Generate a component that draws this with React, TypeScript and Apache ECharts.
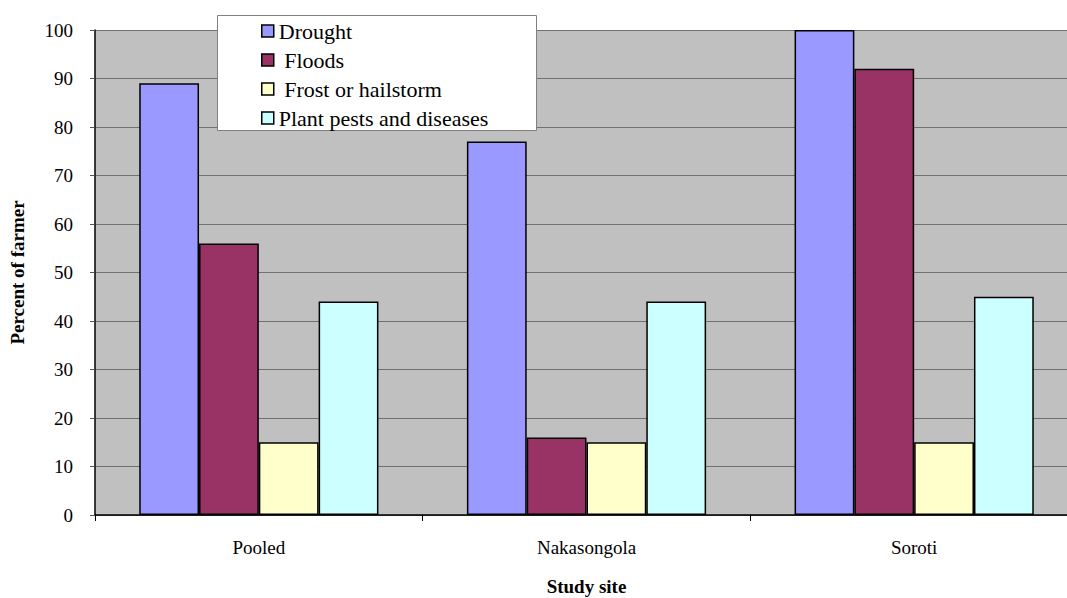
import React, { useEffect, useRef } from "react";
import * as echarts from "echarts";

const sites = ["Pooled", "Nakasongola", "Soroti"];
const drought = [89, 77, 100];
const floods = [56, 16, 92];
const frost = [15, 15, 15];
const pests = [44, 44, 45];

const seriesNames = ["Drought", "Floods", "Frost or hailstorm", "Plant pests and diseases"];
const seriesColors = ["#9999ff", "#993366", "#ffffcc", "#ccffff"];
const seriesData = [drought, floods, frost, pests];

const FONT = "Times New Roman, Liberation Serif, serif";

export default function App() {
  const ref = useRef<HTMLDivElement>(null);

  useEffect(() => {
    if (!ref.current) return;
    const chart = echarts.init(ref.current, null, { renderer: "svg" });
    chart.setOption({
      animation: false,
      textStyle: { fontFamily: FONT },
      grid: {
        left: 95,
        top: 30,
        right: -11,
        bottom: 83,
        show: true,
        backgroundColor: "#c0c0c0",
        borderWidth: 0,
        containLabel: false,
        outerBoundsMode: "none",
      },
      graphic: [
        {
          type: "rect",
          z: 5,
          shape: { x: 217.5, y: 15.5, width: 319, height: 115 },
          style: { fill: "#ffffff", stroke: "#808080", lineWidth: 1 },
        },
      ],
      legend: {
        orient: "vertical",
        left: 261,
        top: 19,
        z: 10,
        icon: "rect",
        itemWidth: 12,
        itemHeight: 12,
        itemGap: 5,
        padding: 0,
        selectedMode: false,
        textStyle: { fontFamily: FONT, fontSize: 22, color: "#000", lineHeight: 24, padding: [0, 0, 0, 0] },
        formatter: (name: string) => (name === "Drought" || name.startsWith("Plant") ? name : " " + name),
        itemStyle: { borderColor: "#000", borderWidth: 1.5 },
        data: seriesNames,
      },
      xAxis: {
        type: "category",
        data: sites,
        name: "Study site",
        nameLocation: "middle",
        nameGap: 62,
        nameTextStyle: { fontFamily: FONT, fontSize: 19, fontWeight: "bold", color: "#000" },
        axisLine: { lineStyle: { color: "#000", width: 1.5 } },
        axisTick: { show: true, length: 6, lineStyle: { color: "#000" } },
        axisLabel: { fontFamily: FONT, fontSize: 19, color: "#000", margin: 23 },
      },
      yAxis: {
        type: "value",
        min: 0,
        max: 100,
        interval: 10,
        name: "Percent of farmer",
        nameLocation: "middle",
        nameGap: 68,
        nameTextStyle: { fontFamily: FONT, fontSize: 19, fontWeight: "bold", color: "#000" },
        axisLine: { show: true, lineStyle: { color: "#000", width: 1.5 } },
        axisTick: { show: true, length: 5, lineStyle: { color: "#555" } },
        axisLabel: { fontFamily: FONT, fontSize: 19, color: "#000", margin: 22 },
        splitLine: { show: true, lineStyle: { color: "#707070", width: 1 } },
      },
      series: seriesNames.map((name, i) => ({
        name,
        type: "bar",
        data: seriesData[i],
        barGap: "0%",
        barCategoryGap: "27%",
        itemStyle: { color: seriesColors[i], borderColor: "#000", borderWidth: 1.5 },
      })),
    });
    return () => chart.dispose();
  }, []);

  return (
    <div
      ref={ref}
      style={{ position: "fixed", left: 0, top: 0, width: 1067, height: 598, background: "#fff" }}
    />
  );
}
